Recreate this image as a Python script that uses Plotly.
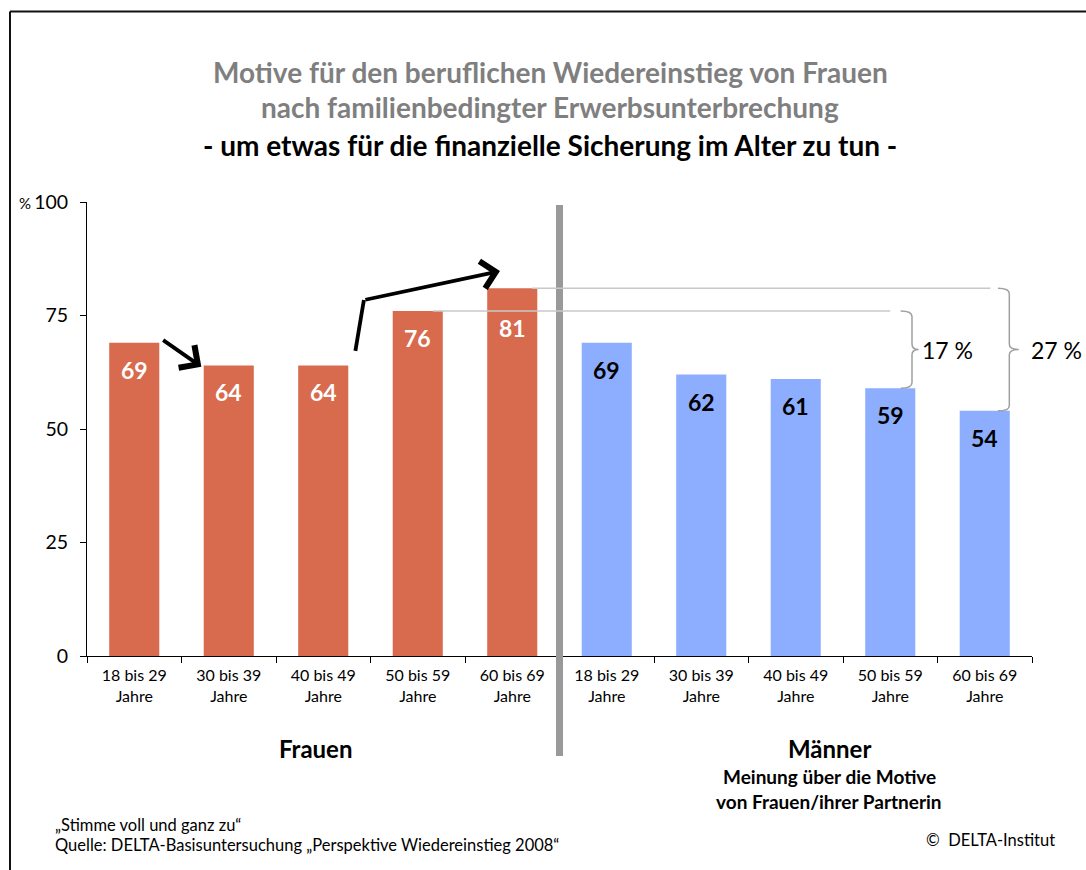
import plotly.graph_objects as go

# ---------------- data ----------------
age_groups = ["18 bis 29<br>Jahre", "30 bis 39<br>Jahre", "40 bis 49<br>Jahre",
              "50 bis 59<br>Jahre", "60 bis 69<br>Jahre"]
frauen = [69, 64, 64, 76, 81]
maenner = [69, 62, 61, 59, 54]
y_ticks = [0, 25, 50, 75, 100]
title_lines = ["Motive für den beruflichen Wiedereinstieg von Frauen",
               "nach familienbedingter Erwerbsunterbrechung",
               "- um etwas für die finanzielle Sicherung im Alter zu tun -"]
diff_labels = ["17 %", "27 %"]

# label offsets below bar top (px)
frauen_label_shift = [-27, -27, -27, -27, -40]
maenner_label_shift = [-27, -27, -27, -27, -27]

# ---------------- layout constants ----------------
W, H = 1086, 870
L, R, T, B = 87, 54, 202, 214
PW, PH = W - L - R, H - T - B
FONT = "Lato, Carlito, Calibri, sans-serif"
RED = "#D86A4E"
BLUE = "#8DAEFF"


def px(xp):
    return (xp - L) / PW


def py(yp):
    return (H - B - yp) / PH


n = len(age_groups)
x_f = list(range(n))
x_m = list(range(n, 2 * n))

fig = go.Figure()
fig.add_trace(go.Bar(x=x_f, y=frauen, marker_color=RED, width=0.53,
                     marker_line_width=0, hoverinfo="skip"))
fig.add_trace(go.Bar(x=x_m, y=maenner, marker_color=BLUE, width=0.53,
                     marker_line_width=0, hoverinfo="skip"))

annotations = []
# value labels
for xi, v, s in zip(x_f, frauen, frauen_label_shift):
    annotations.append(dict(x=xi, y=v, xref="x", yref="y", text=f"<b>{v}</b>",
                            showarrow=False, yshift=s, xanchor="center",
                            yanchor="middle",
                            font=dict(family=FONT, size=23, color="white")))
for xi, v, s in zip(x_m, maenner, maenner_label_shift):
    annotations.append(dict(x=xi, y=v, xref="x", yref="y", text=f"<b>{v}</b>",
                            showarrow=False, yshift=s, xanchor="center",
                            yanchor="middle",
                            font=dict(family=FONT, size=23, color="black")))


def note(x, y, text, size, color="black", xanchor="center", bold=False):
    return dict(x=px(x), y=py(y), xref="paper", yref="paper",
                text=f"<b>{text}</b>" if bold else text, showarrow=False,
                xanchor=xanchor, yanchor="middle",
                font=dict(family=FONT, size=size, color=color))


# titles
title_y = [72, 107, 145]
title_col = ["#7F7F7F", "#7F7F7F", "black"]
for t, yy, c in zip(title_lines, title_y, title_col):
    annotations.append(note(550, yy, t, 28, c, bold=True))

# % sign at top of y axis
annotations.append(note(33, 203, "%", 15, xanchor="right"))

# group labels and notes
annotations += [
    note(315, 748, "Frauen", 24, bold=True),
    note(829, 748, "Männer", 24, bold=True),
    note(829, 776, "Meinung über die Motive", 19, bold=True),
    note(829, 801, "von Frauen/ihrer Partnerin", 19, bold=True),
    note(53, 825, "„Stimme voll und ganz zu“", 16.5, xanchor="left"),
    note(53, 845, "Quelle: DELTA-Basisuntersuchung „Perspektive Wiedereinstieg 2008“",
         16.5, xanchor="left"),
    note(1057, 840, "©  DELTA-Institut", 16.5, xanchor="right"),
]

# difference labels
mid = (frauen[3] + maenner[3]) / 2
annotations.append(dict(x=px(920), y=mid, xref="paper", yref="y", xanchor="left",
                        yanchor="middle", text=diff_labels[0], showarrow=False,
                        font=dict(family=FONT, size=23, color="black")))
annotations.append(dict(x=px(1029), y=mid, xref="paper", yref="y", xanchor="left",
                        yanchor="middle", text=diff_labels[1], showarrow=False,
                        font=dict(family=FONT, size=23, color="black")))

# arrows
annotations.append(dict(x=0.71, y=63.7, ax=0.29, ay=69.8, xref="x", yref="y",
                        axref="x", ayref="y", text="", showarrow=True,
                        arrowhead=4, arrowsize=1.4, arrowwidth=3.8,
                        arrowcolor="black", standoff=0))
annotations.append(dict(x=3.87, y=84.8, ax=2.43, ay=78.4, xref="x", yref="y",
                        axref="x", ayref="y", text="", showarrow=True,
                        arrowhead=4, arrowsize=1.4, arrowwidth=3.8,
                        arrowcolor="black", standoff=0))

shapes = []
# frame
shapes.append(dict(type="line", xref="paper", yref="paper", x0=px(10), x1=px(10),
                   y0=py(11.5), y1=py(H + 5), line=dict(color="#111", width=2)))
shapes.append(dict(type="line", xref="paper", yref="paper", x0=px(10), x1=px(W + 5),
                   y0=py(11.5), y1=py(11.5), line=dict(color="#111", width=2)))
# divider
shapes.append(dict(type="line", xref="paper", yref="paper", x0=0.5, x1=0.5,
                   y0=py(205), y1=py(756), line=dict(color="#999999", width=7)))
# arrow 2 first segment
shapes.append(dict(type="line", xref="x", yref="y", x0=2.34, y0=67.2, x1=2.43, y1=78.4,
                   line=dict(color="black", width=3.8)))
# reference lines
shapes.append(dict(type="line", xref="x", yref="y", x0=4.21, x1=9.06,
                   y0=frauen[4], y1=frauen[4], line=dict(color="#C8C8C8", width=1.5)))
shapes.append(dict(type="line", xref="x", yref="y", x0=3.16, x1=8.0,
                   y0=frauen[3], y1=frauen[3], line=dict(color="#C8C8C8", width=1.5)))


def brace(xl, xv, xt, ytop, ybot, r=1.2):
    ym = (ytop + ybot) / 2
    return (f"M{xl},{ytop} Q{xv},{ytop} {xv},{ytop - r} L{xv},{ym + r} "
            f"Q{xv},{ym} {xt},{ym} Q{xv},{ym} {xv},{ym - r} L{xv},{ybot + r} "
            f"Q{xv},{ybot} {xl},{ybot}")


shapes.append(dict(type="path", xref="x", yref="y",
                   path=brace(8.11, 8.23, 8.30, frauen[3], maenner[3]),
                   line=dict(color="#A0A0A0", width=1.5)))
shapes.append(dict(type="path", xref="x", yref="y",
                   path=brace(9.14, 9.26, 9.36, frauen[4], maenner[4]),
                   line=dict(color="#A0A0A0", width=1.5)))

fig.update_layout(
    width=W, height=H,
    margin=dict(l=L, r=R, t=T, b=B, autoexpand=False),
    paper_bgcolor="white", plot_bgcolor="white",
    showlegend=False, bargap=0.47,
    annotations=annotations, shapes=shapes,
    font=dict(family=FONT, color="black"),
)
fig.update_xaxes(
    range=[-0.5, 2 * n - 0.5], tickvals=x_f + x_m, ticktext=age_groups * 2,
    ticks="", showline=True, linecolor="black", linewidth=1,
    tickfont=dict(family=FONT, size=16, color="black"), showgrid=False,
    zeroline=False, fixedrange=True, ticklabelstandoff=5,
    minor=dict(tickvals=[i - 0.5 for i in range(2 * n + 1)], ticks="outside",
               ticklen=6, tickcolor="black", tickwidth=1, showgrid=False),
)
fig.update_yaxes(
    range=[0, 100], tickvals=y_ticks, ticks="outside", ticklen=6,
    tickcolor="black", showline=True, linecolor="black", linewidth=1,
    tickfont=dict(family=FONT, size=19.5, color="black"), showgrid=False,
    zeroline=False, ticklabelstandoff=8, fixedrange=True,
)

fig.write_html("out.html", config={"displayModeBar": False},
               post_script="document.body.style.margin='0';document.body.style.overflow='hidden';")
